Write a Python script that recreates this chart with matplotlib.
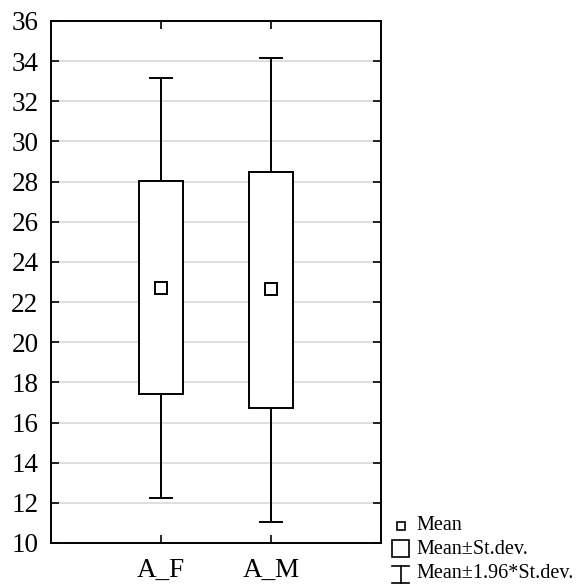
import matplotlib
matplotlib.use("Agg")
import matplotlib.pyplot as plt
from matplotlib.patches import Rectangle
from matplotlib.lines import Line2D

# Values
groups = ["A_F", "A_M"]
means = [22.72, 22.64]
sd_low = [17.40, 16.70]
sd_high = [28.03, 28.48]
ci_low = [12.26, 11.05]
ci_high = [33.18, 34.15]
y_ticks = [10, 12, 14, 16, 18, 20, 22, 24, 26, 28, 30, 32, 34, 36]

plt.rcParams['font.family'] = ['Liberation Serif', 'DejaVu Serif']

fig = plt.figure(figsize=(5.8, 5.86), dpi=100)
W, H = 580, 586
ax = fig.add_axes([51 / W, 1 - 543 / H, 330 / W, 522 / H])

lw = 1.4
box_w = 0.4
cap_w = 0.2
for i, g in enumerate(groups):
    x = i + 1
    # whiskers
    ax.plot([x, x], [sd_high[i], ci_high[i]], color='black', lw=lw, zorder=3)
    ax.plot([x, x], [ci_low[i], sd_low[i]], color='black', lw=lw, zorder=3)
    ax.plot([x - cap_w / 2, x + cap_w / 2], [ci_high[i]] * 2, color='black', lw=lw, zorder=3)
    ax.plot([x - cap_w / 2, x + cap_w / 2], [ci_low[i]] * 2, color='black', lw=lw, zorder=3)
    # box
    ax.add_patch(Rectangle((x - box_w / 2, sd_low[i]), box_w, sd_high[i] - sd_low[i],
                           facecolor='white', edgecolor='black', lw=lw, zorder=3))
    # mean
    ax.plot(x, means[i], marker='s', ms=8.5, mfc='white', mec='black', mew=lw, zorder=4)

ax.set_xlim(0, 3)
ax.set_ylim(10, 36)
ax.set_xticks([1, 2])
ax.set_xticklabels(groups)
ax.set_yticks(y_ticks)
ax.yaxis.grid(True, color='#d9d9d9', lw=1.2)
ax.set_axisbelow(True)
ax.tick_params(direction='in', length=6, width=1.2, labelsize=19.5,
               top=True, right=True, pad=9)
ax.tick_params(axis='x', pad=11)
for s in ax.spines.values():
    s.set_linewidth(1.4)

# legend drawn by hand below the right side of the plot
def px(x, y):
    return x / W, 1 - y / H

fig.add_artist(Line2D(*zip(px(400.5, 525.5)), marker='s', ms=6, mfc='white', mec='black',
                      mew=1.2, transform=fig.transFigure))
bx, by = px(392, 557)
fig.add_artist(Rectangle((bx, by), 17 / W, 17 / H, facecolor='white', edgecolor='black',
                         lw=1.2, transform=fig.transFigure))
x0, y0 = px(392, 566)
x1, y1 = px(409, 582.5)
xm = (x0 + x1) / 2
fig.add_artist(Line2D([x0, x1], [y0, y0], color='black', lw=1.2, transform=fig.transFigure))
fig.add_artist(Line2D([x0, x1], [y1, y1], color='black', lw=1.2, transform=fig.transFigure))
fig.add_artist(Line2D([xm, xm], [y0, y1], color='black', lw=1.2, transform=fig.transFigure))

for label, yy in zip(["Mean", "Mean\u00b1St.dev.", "Mean\u00b11.96*St.dev."], [526, 550, 574]):
    tx, ty = px(416, yy)
    fig.text(tx, ty, label, fontsize=14.5, va='center', ha='left')

fig.savefig("out.png", dpi=100)
